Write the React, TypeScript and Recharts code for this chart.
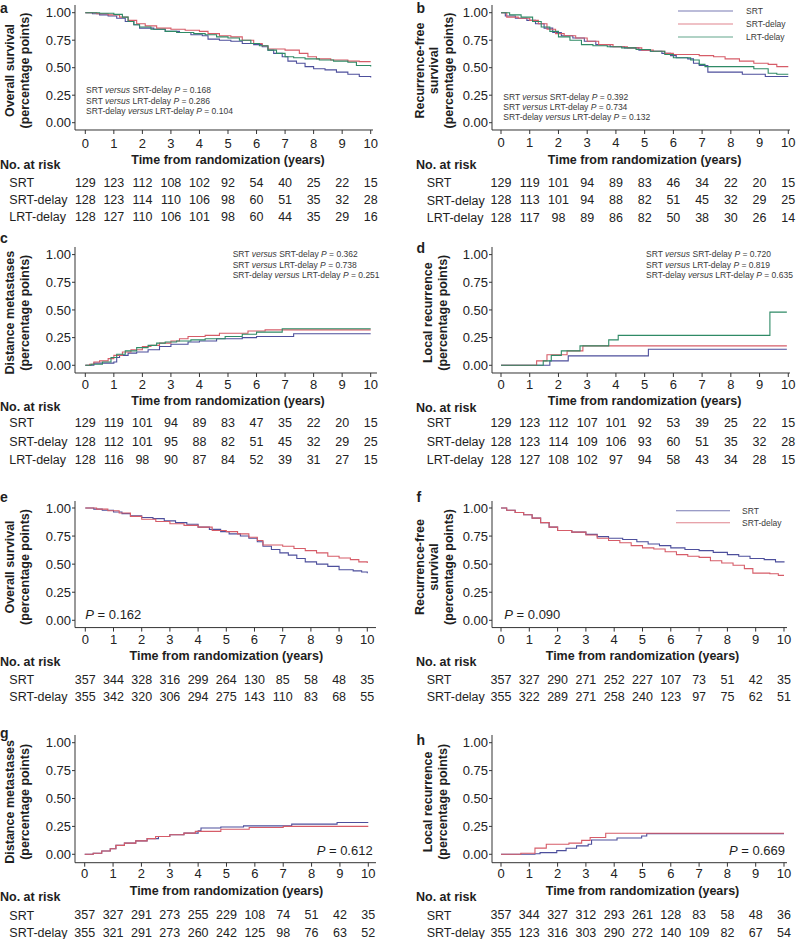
import React from 'react';
import { ComposedChart, Line, XAxis, YAxis } from 'recharts';

const FONT = '"Liberation Sans", Arial, Helvetica, sans-serif';
const BLUE = '#4d4f9c';
const RED = '#d65c68';
const GREEN = '#2f8a66';
const INK = '#1e1e1e';

type Pt = [number, number];

const X_TICKS = [0, 1, 2, 3, 4, 5, 6, 7, 8, 9, 10];
const Y_TICKS = [0, 0.25, 0.5, 0.75, 1];

// ---------- panel a: overall survival (3 arms) ----------
const aSRT: Pt[] = [[0,1],[0.25,0.99],[0.5,0.98],[0.8,0.97],[1.1,0.95],[1.4,0.92],[1.7,0.89],[1.9,0.86],[2.4,0.85],[2.8,0.83],[3.3,0.82],[3.7,0.8],[4.1,0.79],[4.3,0.76],[4.7,0.75],[5.1,0.74],[5.5,0.72],[5.9,0.71],[6.2,0.69],[6.4,0.66],[6.6,0.63],[6.9,0.6],[7.1,0.56],[7.4,0.54],[7.7,0.51],[8.0,0.49],[8.4,0.48],[8.8,0.46],[9.2,0.44],[9.6,0.42],[10,0.41]];
const aSRTd: Pt[] = [[0,1],[0.4,0.99],[0.8,0.98],[1.2,0.96],[1.5,0.93],[1.8,0.9],[2.1,0.88],[2.5,0.86],[3.0,0.85],[3.5,0.84],[4.0,0.83],[4.3,0.81],[4.7,0.79],[5.1,0.78],[5.5,0.75],[5.9,0.72],[6.2,0.7],[6.4,0.67],[7.0,0.66],[7.5,0.63],[7.8,0.6],[8.1,0.58],[8.6,0.57],[9.2,0.56],[9.6,0.555],[10,0.555]];
const aLRTd: Pt[] = [[0,1],[0.5,0.995],[1.0,0.985],[1.3,0.96],[1.5,0.92],[1.7,0.89],[1.9,0.87],[2.3,0.85],[2.8,0.83],[3.2,0.82],[3.8,0.81],[4.2,0.8],[4.6,0.78],[5.0,0.77],[5.4,0.75],[5.8,0.72],[6.1,0.7],[6.4,0.66],[6.7,0.63],[7.0,0.6],[7.3,0.59],[7.7,0.58],[8.2,0.57],[8.7,0.56],[9.2,0.55],[9.5,0.52],[10,0.51]];
const aRiskSRT = [129, 123, 112, 108, 102, 92, 54, 40, 25, 22, 15];
const aRiskSRTd = [128, 123, 114, 110, 106, 98, 60, 51, 35, 32, 28];
const aRiskLRTd = [128, 127, 110, 106, 101, 98, 60, 44, 35, 29, 16];

// ---------- panel b: recurrence-free survival (3 arms) ----------
const bSRT: Pt[] = [[0,1],[0.15,0.97],[0.5,0.95],[0.9,0.93],[1.2,0.9],[1.5,0.86],[1.8,0.82],[2.1,0.79],[2.5,0.77],[2.9,0.74],[3.3,0.71],[3.8,0.69],[4.3,0.68],[4.8,0.66],[5.2,0.65],[5.6,0.63],[5.9,0.61],[6.1,0.59],[6.5,0.58],[6.7,0.54],[6.9,0.52],[7.2,0.46],[8.4,0.44],[9.2,0.42],[10,0.42]];
const bSRTd: Pt[] = [[0,1],[0.2,0.96],[0.6,0.95],[1.0,0.93],[1.3,0.9],[1.6,0.85],[1.9,0.81],[2.2,0.79],[2.6,0.77],[3.0,0.74],[3.4,0.71],[3.9,0.69],[4.4,0.68],[4.9,0.66],[5.3,0.65],[5.7,0.63],[6.0,0.62],[6.9,0.61],[7.4,0.6],[7.8,0.58],[8.3,0.56],[8.8,0.54],[9.3,0.53],[9.6,0.51],[10,0.51]];
const bLRTd: Pt[] = [[0,1],[0.3,0.98],[0.7,0.96],[1.1,0.92],[1.4,0.87],[1.7,0.83],[2.0,0.78],[2.4,0.75],[2.8,0.71],[3.2,0.7],[3.7,0.69],[4.2,0.68],[4.7,0.665],[5.2,0.65],[5.7,0.62],[6.0,0.59],[6.6,0.57],[6.9,0.53],[7.1,0.51],[8.0,0.51],[8.8,0.49],[9.3,0.45],[9.6,0.44],[10,0.44]];
const bRiskSRT = [129, 119, 101, 94, 89, 83, 46, 34, 22, 20, 15];
const bRiskSRTd = [128, 113, 101, 94, 88, 82, 51, 45, 32, 29, 25];
const bRiskLRTd = [128, 117, 98, 89, 86, 82, 50, 38, 30, 26, 14];

// ---------- panel c: distance metastases (3 arms) ----------
const cSRT: Pt[] = [[0,0],[0.3,0.02],[1.0,0.03],[1.1,0.07],[1.2,0.09],[1.5,0.11],[1.8,0.12],[2.2,0.14],[2.6,0.17],[3.0,0.19],[3.6,0.21],[4.0,0.22],[4.6,0.24],[5.5,0.25],[6.0,0.26],[7.3,0.285],[10,0.285]];
const cSRTd: Pt[] = [[0,0],[0.15,0.01],[0.3,0.03],[0.5,0.04],[0.8,0.06],[1.0,0.09],[1.3,0.12],[1.6,0.14],[2.0,0.17],[2.3,0.18],[2.6,0.2],[3.0,0.22],[3.3,0.24],[3.6,0.26],[4.2,0.27],[4.7,0.29],[5.7,0.31],[6.3,0.32],[10,0.32]];
const cLRTd: Pt[] = [[0,0],[0.2,0.01],[0.6,0.03],[0.9,0.07],[1.1,0.1],[1.4,0.13],[1.8,0.16],[2.2,0.18],[2.5,0.2],[2.8,0.21],[3.2,0.22],[3.7,0.23],[4.2,0.24],[4.9,0.26],[5.5,0.28],[6.0,0.3],[6.9,0.33],[10,0.33]];
const cRiskSRT = [129, 119, 101, 94, 89, 83, 47, 35, 22, 20, 15];
const cRiskSRTd = [128, 112, 101, 95, 88, 82, 51, 45, 32, 29, 25];
const cRiskLRTd = [128, 116, 98, 90, 87, 84, 52, 39, 31, 27, 15];

// ---------- panel d: local recurrence (3 arms) ----------
const dSRT: Pt[] = [[0,0],[1.7,0.04],[2.34,0.085],[5.13,0.145],[9.95,0.145]];
const dSRTd: Pt[] = [[0,0],[1.24,0.04],[1.6,0.095],[2.3,0.13],[2.85,0.175],[9.95,0.175]];
const dLRTd: Pt[] = [[0,0],[1.47,0.04],[1.75,0.09],[2.1,0.13],[2.75,0.175],[3.75,0.23],[4.08,0.27],[9.36,0.48],[9.95,0.48]];
const dRiskSRT = [129, 123, 112, 107, 101, 92, 53, 39, 25, 22, 15];
const dRiskSRTd = [128, 123, 114, 109, 106, 93, 60, 51, 35, 32, 28];
const dRiskLRTd = [128, 127, 108, 102, 97, 94, 58, 43, 34, 28, 15];

// ---------- panel e: overall survival (2 arms) ----------
const eSRT: Pt[] = [[0,1],[0.3,0.99],[0.6,0.98],[1.0,0.965],[1.3,0.95],[1.6,0.93],[2.0,0.915],[2.4,0.905],[2.8,0.885],[3.2,0.87],[3.6,0.855],[4.0,0.83],[4.4,0.81],[4.8,0.79],[5.1,0.77],[5.5,0.75],[5.8,0.73],[6.1,0.7],[6.3,0.66],[6.6,0.63],[6.9,0.6],[7.2,0.58],[7.5,0.55],[7.8,0.52],[8.2,0.5],[8.6,0.48],[9.0,0.45],[9.5,0.44],[9.8,0.43],[10,0.42]];
const eSRTd: Pt[] = [[0,1],[0.4,0.99],[0.8,0.975],[1.2,0.955],[1.6,0.925],[2.0,0.9],[2.5,0.88],[3.0,0.86],[3.5,0.845],[4.0,0.83],[4.5,0.8],[5.0,0.79],[5.4,0.77],[5.8,0.74],[6.1,0.71],[6.3,0.67],[7.0,0.66],[7.4,0.64],[7.8,0.62],[8.2,0.6],[8.6,0.57],[9.0,0.555],[9.4,0.54],[9.7,0.52],[10,0.51]];
const eRiskSRT = [357, 344, 328, 316, 299, 264, 130, 85, 58, 48, 35];
const eRiskSRTd = [355, 342, 320, 306, 294, 275, 143, 110, 83, 68, 55];

// ---------- panel f: recurrence-free survival (2 arms) ----------
const fSRT: Pt[] = [[0,1],[0.2,0.98],[0.5,0.96],[0.8,0.94],[1.1,0.91],[1.4,0.87],[1.7,0.83],[2.0,0.8],[2.5,0.785],[3.0,0.765],[3.4,0.745],[3.8,0.73],[4.3,0.72],[4.8,0.7],[5.2,0.68],[5.6,0.665],[6.0,0.645],[6.5,0.63],[7.0,0.62],[7.5,0.605],[8.0,0.585],[8.4,0.57],[8.8,0.55],[9.3,0.54],[9.7,0.52],[10,0.515]];
const fSRTd: Pt[] = [[0,1],[0.2,0.98],[0.5,0.96],[0.8,0.94],[1.1,0.91],[1.4,0.87],[1.7,0.83],[2.0,0.8],[2.5,0.785],[3.0,0.76],[3.4,0.73],[3.8,0.71],[4.2,0.69],[4.6,0.665],[5.0,0.645],[5.4,0.635],[5.8,0.61],[6.2,0.585],[6.6,0.57],[7.0,0.56],[7.4,0.53],[7.8,0.51],[8.2,0.49],[8.6,0.46],[8.9,0.42],[9.5,0.415],[9.8,0.4],[10,0.4]];
const fRiskSRT = [357, 327, 290, 271, 252, 227, 107, 73, 51, 42, 35];
const fRiskSRTd = [355, 322, 289, 271, 258, 240, 123, 97, 75, 62, 51];

// ---------- panel g: distance metastases (2 arms) ----------
const gSRT: Pt[] = [[0,0],[0.3,0.01],[0.6,0.03],[0.9,0.05],[1.1,0.08],[1.4,0.1],[1.8,0.12],[2.2,0.14],[2.6,0.16],[3.0,0.175],[3.5,0.19],[4.0,0.21],[4.1,0.235],[4.8,0.245],[5.6,0.255],[7.3,0.27],[8.9,0.285],[10,0.285]];
const gSRTd: Pt[] = [[0,0],[0.3,0.01],[0.6,0.03],[0.9,0.05],[1.1,0.08],[1.4,0.1],[1.8,0.12],[2.2,0.14],[2.5,0.16],[3.0,0.175],[3.5,0.19],[3.9,0.205],[4.8,0.225],[5.8,0.24],[7.0,0.25],[10,0.25]];
const gRiskSRT = [357, 327, 291, 273, 255, 229, 108, 74, 51, 42, 35];
const gRiskSRTd = [355, 321, 291, 273, 260, 242, 125, 98, 76, 63, 52];

// ---------- panel h: local recurrence (2 arms) ----------
const hSRT: Pt[] = [[0,0],[1.2,0.005],[1.38,0.015],[1.97,0.033],[2.3,0.054],[2.67,0.075],[3.08,0.09],[3.2,0.128],[4.1,0.146],[4.97,0.164],[5.15,0.185],[10,0.185]];
const hSRTd: Pt[] = [[0,0],[0.7,0.01],[1.2,0.055],[1.6,0.09],[2.4,0.1],[2.85,0.125],[3.15,0.15],[3.7,0.188],[10,0.188]];
const hRiskSRT = [357, 344, 327, 312, 293, 261, 128, 83, 58, 48, 36];
const hRiskSRTd = [355, 123, 316, 303, 290, 272, 140, 109, 82, 67, 54];

interface Series { name: string; color: string; pts: Pt[]; risk: number[] }

interface PanelCfg {
  id: string;
  colX: number; width: number;
  plotLeft: number; x0: number; x10: number; plotRight: number;
  plotTop: number; y1: number; y0: number; plotBottom: number;
  tickCenter: number; titleCenter: number; noRiskY: number; rows: number[];
  letterY: number; yTitle: string[]; yTitleX: number[];
  series: Series[];
  notes?: { x: number; ys: number[]; pairs: [string, string, string][] };
  pText?: { text: string; x: number; y: number; anchor: 'start' | 'end' };
  legend?: { x1: number; x2: number; tx: number; ys: number[] };
}

const three = (s: Pt[], sd: Pt[], l: Pt[], rs: number[], rsd: number[], rl: number[]): Series[] => [
  { name: 'SRT', color: BLUE, pts: s, risk: rs },
  { name: 'SRT-delay', color: RED, pts: sd, risk: rsd },
  { name: 'LRT-delay', color: GREEN, pts: l, risk: rl },
];
const two = (s: Pt[], sd: Pt[], rs: number[], rsd: number[]): Series[] => [
  { name: 'SRT', color: BLUE, pts: s, risk: rs },
  { name: 'SRT-delay', color: RED, pts: sd, risk: rsd },
];

const PV_A: [string, string, string][] = [['SRT', 'SRT-delay', '0.168'], ['SRT', 'LRT-delay', '0.286'], ['SRT-delay', 'LRT-delay', '0.104']];
const PV_B: [string, string, string][] = [['SRT', 'SRT-delay', '0.392'], ['SRT', 'LRT-delay', '0.734'], ['SRT-delay', 'LRT-delay', '0.132']];
const PV_C: [string, string, string][] = [['SRT', 'SRT-delay', '0.362'], ['SRT', 'LRT-delay', '0.738'], ['SRT-delay', 'LRT-delay', '0.251']];
const PV_D: [string, string, string][] = [['SRT', 'SRT-delay', '0.720'], ['SRT', 'LRT-delay', '0.819'], ['SRT-delay', 'LRT-delay', '0.635']];

const PP = '(percentage points)';

const PANELS: PanelCfg[] = [
  { id: 'a', colX: 0, width: 400, plotLeft: 75, x0: 85.3, x10: 370.7, plotRight: 373, plotTop: 5, y1: 12.7, y0: 122.7, plotBottom: 130,
    tickCenter: 143, titleCenter: 159, noRiskY: 164, rows: [182.7, 199.5, 216.7], letterY: 13, yTitle: ['Overall survival', PP], yTitleX: [10, 25],
    series: three(aSRT, aSRTd, aLRTd, aRiskSRT, aRiskSRTd, aRiskLRTd), notes: { x: 86, ys: [90, 100.5, 111], pairs: PV_A } },
  { id: 'b', colX: 400, width: 398, plotLeft: 492, x0: 501, x10: 788.3, plotRight: 790, plotTop: 5, y1: 12.7, y0: 122.7, plotBottom: 130,
    tickCenter: 142.7, titleCenter: 159.3, noRiskY: 164.3, rows: [182.7, 200, 217.3], letterY: 13, yTitle: ['Recurrence-free', 'survival', PP], yTitleX: [420, 434, 449],
    series: three(bSRT, bSRTd, bLRTd, bRiskSRT, bRiskSRTd, bRiskLRTd), notes: { x: 503.3, ys: [96.7, 106.7, 116.7], pairs: PV_B },
    legend: { x1: 678, x2: 733, tx: 746, ys: [11, 24, 37] } },
  { id: 'c', colX: 0, width: 400, plotLeft: 75, x0: 85.3, x10: 370.7, plotRight: 377, plotTop: 246.7, y1: 254.3, y0: 365, plotBottom: 372.7,
    tickCenter: 384, titleCenter: 400.7, noRiskY: 406.7, rows: [422.7, 441.3, 459], letterY: 242.5, yTitle: ['Distance metastases', PP], yTitleX: [10, 25],
    series: three(cSRT, cSRTd, cLRTd, cRiskSRT, cRiskSRTd, cRiskLRTd), notes: { x: 232.7, ys: [254.3, 264.7, 275], pairs: PV_C } },
  { id: 'd', colX: 400, width: 398, plotLeft: 492, x0: 501, x10: 788.3, plotRight: 790, plotTop: 246.7, y1: 254.3, y0: 365, plotBottom: 372.7,
    tickCenter: 384, titleCenter: 400.7, noRiskY: 407.3, rows: [422.7, 441.3, 459], letterY: 252.5, yTitle: ['Local recurrence', PP], yTitleX: [428.3, 443.3],
    series: three(dSRT, dSRTd, dLRTd, dRiskSRT, dRiskSRTd, dRiskLRTd), notes: { x: 646, ys: [254.3, 264.7, 275], pairs: PV_D } },
  { id: 'e', colX: 0, width: 400, plotLeft: 75, x0: 85.3, x10: 367.3, plotRight: 376, plotTop: 500.7, y1: 507.7, y0: 620, plotBottom: 627.3,
    tickCenter: 639, titleCenter: 655, noRiskY: 661.3, rows: [679.3, 696.3], letterY: 501.5, yTitle: ['Overall survival', PP], yTitleX: [9.5, 25],
    series: two(eSRT, eSRTd, eRiskSRT, eRiskSRTd), pText: { text: '0.162', x: 85.3, y: 614, anchor: 'start' } },
  { id: 'f', colX: 400, width: 398, plotLeft: 492, x0: 501, x10: 784, plotRight: 787, plotTop: 500.7, y1: 507.7, y0: 620, plotBottom: 627.3,
    tickCenter: 639, titleCenter: 655, noRiskY: 661.3, rows: [679.3, 696.3], letterY: 501.5, yTitle: ['Recurrence-free', 'survival', PP], yTitleX: [419.5, 433.5, 449.3],
    series: two(fSRT, fSRTd, fRiskSRT, fRiskSRTd), pText: { text: '0.090', x: 504.3, y: 614, anchor: 'start' },
    legend: { x1: 676, x2: 730, tx: 742, ys: [510.7, 522.7] } },
  { id: 'g', colX: 0, width: 400, plotLeft: 75, x0: 84.7, x10: 368.3, plotRight: 376, plotTop: 735, y1: 742.7, y0: 854.3, plotBottom: 862.7,
    tickCenter: 873, titleCenter: 890.7, noRiskY: 896, rows: [915, 932.3], letterY: 737.5, yTitle: ['Distance metastases', PP], yTitleX: [10, 25],
    series: two(gSRT, gSRTd, gRiskSRT, gRiskSRTd), pText: { text: '0.612', x: 372.7, y: 850, anchor: 'end' } },
  { id: 'h', colX: 400, width: 398, plotLeft: 492, x0: 501, x10: 784, plotRight: 787, plotTop: 735, y1: 742.7, y0: 854.3, plotBottom: 862.7,
    tickCenter: 873, titleCenter: 890.7, noRiskY: 896, rows: [915, 932.3], letterY: 745, yTitle: ['Local recurrence', PP], yTitleX: [428.3, 443.3],
    series: two(hSRT, hSRTd, hRiskSRT, hRiskSRTd), pText: { text: '0.669', x: 785, y: 850, anchor: 'end' } },
];

const TICK_FS = 13;
const RISK_FS = 12.5;

function KMPanel({ p }: { p: PanelCfg }) {
  const pxYr = (p.x10 - p.x0) / 10;
  const xMin = (p.plotLeft - p.x0) / pxYr;
  const xMax = 10 + (p.plotRight - p.x10) / pxYr;
  const pxU = p.y0 - p.y1;
  const yMax = 1 + (p.y1 - p.plotTop) / pxU;
  const yMin = -(p.plotBottom - p.y0) / pxU;
  const mTop = 3;
  const mainH = p.rows[0] - 0.352 * RISK_FS - p.plotBottom;
  const rowHs = p.rows.map((r, i) => (i < p.rows.length - 1 ? p.rows[i + 1] - r : 14));
  const height = mTop + (p.plotBottom - p.plotTop) + mainH + rowHs.reduce((a, b) => a + b, 0) + 2;
  const tickSize = 4;
  const tickMargin = p.tickCenter - p.plotBottom - tickSize - 0.352 * TICK_FS;
  const tickStyle = { fill: '#222', fontSize: TICK_FS, fontFamily: FONT };
  const riskStyle = { fill: '#222', fontSize: RISK_FS, fontFamily: FONT };
  const seriesData = p.series.map((s) => s.pts.map(([t, v]) => ({ t, v })));
  return (
    <div style={{ position: 'absolute', left: p.colX, top: p.plotTop - mTop }}>
      <ComposedChart
        width={p.width}
        height={height}
        margin={{ top: mTop, right: p.colX + p.width - p.plotRight, bottom: 2, left: 0 }}
      >
        <XAxis
          xAxisId="main"
          type="number"
          dataKey="t"
          domain={[xMin, xMax]}
          allowDataOverflow
          ticks={X_TICKS}
          interval={0}
          tickSize={tickSize}
          tickMargin={tickMargin}
          height={mainH}
          stroke="#333"
          tick={tickStyle}
        />
        {p.series.map((s, i) => (
          <XAxis
            key={'row' + i}
            xAxisId={'row' + i}
            type="number"
            dataKey="t"
            domain={[xMin, xMax]}
            allowDataOverflow
            ticks={X_TICKS}
            interval={0}
            tickLine={false}
            axisLine={false}
            tickSize={0}
            tickMargin={0}
            height={rowHs[i]}
            tick={riskStyle}
            tickFormatter={(v: number) => String(s.risk[Math.round(v)])}
          />
        ))}
        <YAxis
          type="number"
          domain={[yMin, yMax]}
          allowDataOverflow
          ticks={Y_TICKS}
          interval={0}
          tickSize={3}
          tickMargin={1}
          width={p.plotLeft - p.colX}
          stroke="#333"
          tick={tickStyle}
          tickFormatter={(v: number) => v.toFixed(2)}
        />
        {p.series.map((s, i) => (
          <Line
            key={'anchor' + i}
            xAxisId={'row' + i}
            data={seriesData[i]}
            dataKey="v"
            type="stepAfter"
            stroke="none"
            strokeWidth={0}
            dot={false}
            activeDot={false}
            legendType="none"
            isAnimationActive={false}
          />
        ))}
        {p.series.map((s, i) => (
          <Line
            key={s.name}
            xAxisId="main"
            name={s.name}
            data={seriesData[i]}
            dataKey="v"
            type="stepAfter"
            stroke={s.color}
            strokeWidth={1.1}
            dot={false}
            activeDot={false}
            isAnimationActive={false}
          />
        ))}
      </ComposedChart>
    </div>
  );
}

function PanelText({ p }: { p: PanelCfg }) {
  const left = p.colX === 0;
  const rowLabelX = left ? 9.3 : 426.7;
  const noRiskX = left ? 0 : 416;
  const letterX = left ? 0 : 416.5;
  const yMid = (p.plotTop + p.plotBottom) / 2 + 3;
  const bfs = 12.5;
  return (
    <g fontFamily={FONT} fill={INK}>
      <text x={letterX} y={p.letterY} fontSize={14} fontWeight="bold">{p.id}</text>
      {p.yTitle.map((line, i) => (
        <text
          key={i}
          x={p.yTitleX[i]}
          y={yMid}
          fontSize={bfs}
          fontWeight="bold"
          textAnchor="middle"
          dominantBaseline="central"
          transform={`rotate(-90 ${p.yTitleX[i]} ${yMid})`}
        >
          {line}
        </text>
      ))}
      <text x={(p.x0 + p.x10) / 2} y={p.titleCenter + 0.36 * bfs} fontSize={bfs} fontWeight="bold" textAnchor="middle">
        Time from randomization (years)
      </text>
      <text x={noRiskX} y={p.noRiskY + 0.36 * bfs} fontSize={bfs} fontWeight="bold">No. at risk</text>
      {p.series.map((s, i) => (
        <text key={s.name} x={rowLabelX} y={p.rows[i] + 0.36 * RISK_FS} fontSize={RISK_FS}>{s.name}</text>
      ))}
      {p.notes &&
        p.notes.pairs.map((pr, i) => (
          <text key={'n' + i} x={p.notes!.x} y={p.notes!.ys[i] + 3} fontSize={8.5} fill="#3a3a3a">
            {pr[0] + ' '}
            <tspan fontStyle="italic">versus</tspan>
            {' ' + pr[1] + ' '}
            <tspan fontStyle="italic">P</tspan>
            {' = ' + pr[2]}
          </text>
        ))}
      {p.pText && (
        <text x={p.pText.x} y={p.pText.y + 4.7} fontSize={13} textAnchor={p.pText.anchor}>
          <tspan fontStyle="italic">P</tspan>
          {' = ' + p.pText.text}
        </text>
      )}
      {p.legend &&
        p.series.map((s, i) => (
          <g key={'lg' + i}>
            <line x1={p.legend!.x1} x2={p.legend!.x2} y1={p.legend!.ys[i]} y2={p.legend!.ys[i]} stroke={s.color} strokeWidth={1.1} opacity={0.75} />
            <text x={p.legend!.tx} y={p.legend!.ys[i] + 3} fontSize={8.5} fill="#3a3a3a">{s.name}</text>
          </g>
        ))}
    </g>
  );
}

export default function App() {
  return (
    <div style={{ position: 'absolute', left: 0, top: 0, width: 798, height: 939, background: '#fff', overflow: 'hidden' }}>
      {PANELS.map((p) => (
        <KMPanel key={p.id} p={p} />
      ))}
      <svg width={798} height={939} style={{ position: 'absolute', left: 0, top: 0, pointerEvents: 'none' }}>
        {PANELS.map((p) => (
          <PanelText key={p.id} p={p} />
        ))}
      </svg>
    </div>
  );
}
